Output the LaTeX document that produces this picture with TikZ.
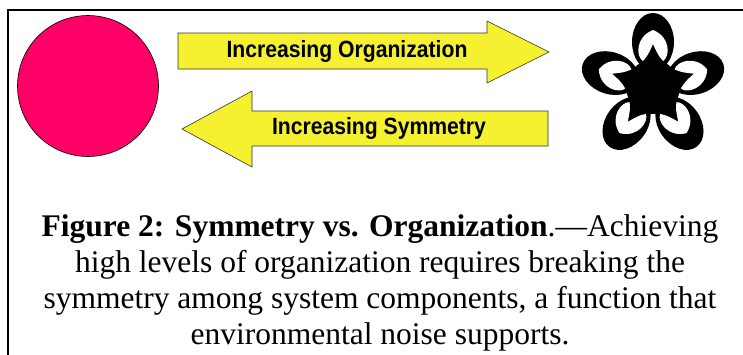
\documentclass[tikz,border=0pt]{standalone}
\usepackage{fontspec}
\usepackage{graphicx}
\setmainfont{Liberation Serif}
\newfontfamily\arialfont{Liberation Sans}
\definecolor{hotpink}{RGB}{255,0,102}
\definecolor{arrowyellow}{RGB}{245,240,48}
\newcommand{\narrowtext}[1]{\scalebox{0.9}[1]{#1}}
\tikzset{
  arrowshape/.style={fill=arrowyellow, draw=black!80, line width=0.6pt, line join=miter},
  arrowlabel/.style={font=\arialfont\bfseries\fontsize{23.5}{26}\selectfont, inner sep=0pt},
  captionline/.style={font=\fontsize{31.5}{36}\selectfont, anchor=base, inner sep=0pt},
  framestyle/.style={line width=2pt, black}
}
\begin{document}
\begin{tikzpicture}[x=1pt,y=-1pt]
\useasboundingbox (0,0) rectangle (743,354);
\fill[white] (0,0) rectangle (743,354);
% frame
\coordinate (fbl) at (8,355);
\coordinate (ftl) at (8,10);
\coordinate (ftr) at (744,10);
\draw[framestyle] (fbl) -- (ftl) -- (ftr);
% circle
\node[circle, fill=hotpink, draw=black, line width=0.6pt, minimum size=141pt, inner sep=0pt] (disk) at (88,86) {};
% top arrow
\draw[arrowshape] (178,33) -- (487,33) -- (487,21) -- (549,52) -- (487,83) -- (487,69) -- (178,69) -- cycle;
\node[arrowlabel] (orgtext) at (347,51) {\narrowtext{Increasing Organization}};
% bottom arrow
\draw[arrowshape] (182,129) -- (252,91) -- (252,111) -- (548,111) -- (548,146) -- (252,146) -- (252,167) -- cycle;
\node[arrowlabel] (symtext) at (379,128) {\narrowtext{Increasing Symmetry}};
% flower
\coordinate (fc) at (653,87);
\fill[black] (fc) circle (27);
\foreach \a in {90,162,234,306,18}{
  \begin{scope}[shift={(fc)}, rotate=\a]
    \fill[black] (45,0) ellipse [x radius=29, y radius=21];
  \end{scope}
}
\foreach \a in {90,162,234,306,18}{
  \begin{scope}[shift={(fc)}, rotate=\a]
    \fill[white] (26,-10) .. controls (30,-17) and (50,-18) .. (57,0)
      .. controls (50,18) and (30,17) .. (26,10)
      .. controls (32,5) .. (43,0)
      .. controls (32,-5) .. (26,-10) -- cycle;
  \end{scope}
}
% caption
\node[captionline] (cap1) at (380,236) {\textbf{Figure 2: Symmetry vs. Organization}.—Achieving};
\node[captionline] (cap2) at (380,272) {high levels of organization requires breaking the};
\node[captionline] (cap3) at (380,308) {symmetry among system components, a function that};
\node[captionline] (cap4) at (380,344) {environmental noise supports.};
\end{tikzpicture}
\end{document}
